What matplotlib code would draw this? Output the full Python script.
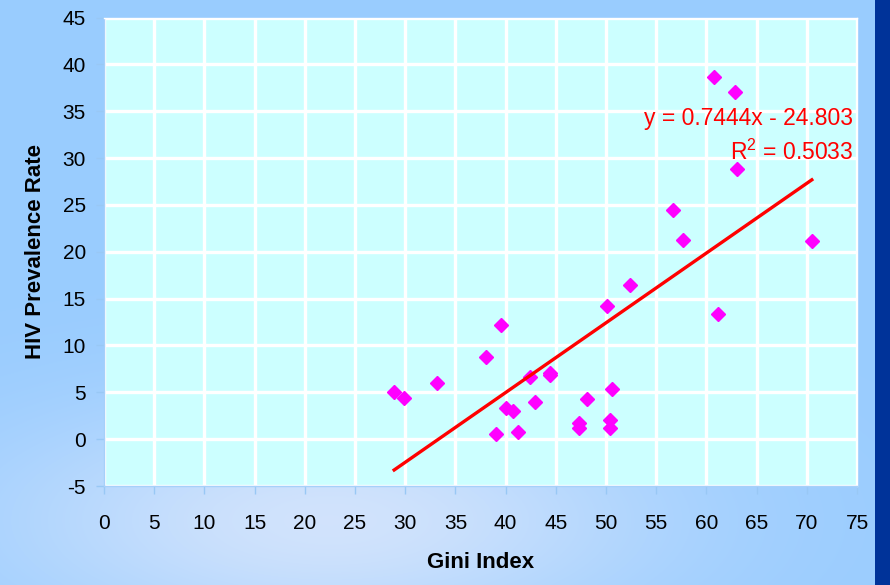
import matplotlib
matplotlib.use('Agg')
import matplotlib.pyplot as plt
import numpy as np
from matplotlib.patches import Rectangle

# Gini index vs HIV prevalence
gini = [28.9, 29.9, 33.2, 38.0, 39.5, 39.0, 40.0, 40.7, 41.2, 42.4,
        42.9, 44.4, 44.4, 47.3, 47.3, 48.1, 50.1, 50.4, 50.4, 50.6,
        52.4, 56.7, 57.7, 60.8, 62.8, 63.0, 61.2, 70.5]
hiv = [5.0, 4.4, 6.0, 8.8, 12.2, 0.6, 3.3, 3.0, 0.8, 6.6,
       4.0, 7.1, 6.8, 1.7, 1.2, 4.3, 14.2, 2.0, 1.2, 5.4,
       16.4, 24.5, 21.3, 38.7, 37.1, 28.8, 13.4, 21.1]

slope = 0.7444
intercept = -24.803
r2 = 0.5033

x_ticks = list(range(0, 80, 5))
y_ticks = list(range(-5, 50, 5))

plt.rcParams['font.family'] = ['Liberation Sans', 'DejaVu Sans']
plt.rcParams['axes.unicode_minus'] = False
plt.rcParams['mathtext.fontset'] = 'custom'
plt.rcParams['mathtext.rm'] = 'Liberation Sans'
plt.rcParams['mathtext.default'] = 'rm'

W, H = 890, 585
fig = plt.figure(figsize=(W / 100, H / 100), dpi=100)

# background: light blue with a paler glow near the bottom
yy, xx = np.mgrid[0:H, 0:W]
w = np.exp(-((xx - 330) / 330.0) ** 2 - ((yy - 520) / 120.0) ** 2)
c0 = np.array([0.60, 0.80, 1.0])
c1 = np.array([0.82, 0.89, 0.99])
bg = c0[None, None, :] * (1 - w[..., None]) + c1[None, None, :] * w[..., None]
ax_bg = fig.add_axes([0, 0, 1, 1], zorder=-10)
ax_bg.imshow(bg, aspect='auto', extent=[0, W, H, 0])
ax_bg.axis('off')
fig.patches.append(Rectangle((875 / W, 0), 1 - 875 / W, 1, transform=fig.transFigure,
                             facecolor='#003399', edgecolor='none', zorder=-5))

ax = fig.add_axes([104 / W, 1 - 486 / H, (857 - 104) / W, (486 - 17.5) / H])
ax.set_facecolor('#ccffff')

ax.set_xlim(0, 75)
ax.set_ylim(-5, 45)
ax.set_xticks(x_ticks)
ax.set_yticks(y_ticks)
ax.grid(True, color='white', linewidth=2.4)
ax.set_axisbelow(True)

for s in ax.spines.values():
    s.set_color('#a6d0fa')
    s.set_linewidth(1)
ax.spines['top'].set_color('white')
ax.spines['right'].set_color('white')

ax.tick_params(axis='both', colors='#99c8f5', length=6, width=1, labelcolor='black', labelsize=15)
ax.tick_params(axis='x', pad=14)
ax.tick_params(axis='y', pad=7)

ax.plot(gini, hiv, linestyle='none', marker='D', markersize=7.5,
        color='#ff00ff', zorder=3, clip_on=False)

xs = np.array(sorted(gini))
ax.plot(xs, slope * xs + intercept, color='#ff0000', linewidth=2.4, zorder=4)

ax.text(853 / W, 1 - 118.5 / H, f'y = {slope}x - {abs(intercept)}', transform=fig.transFigure,
        color='#ff0000', fontsize=16.5, ha='right', va='center')
ax.text(853 / W, 1 - 152 / H, f'R$^2$ = {r2}', transform=fig.transFigure,
        color='#ff0000', fontsize=16.5, ha='right', va='center')

ax.set_xlabel('Gini Index', fontsize=16, fontweight='bold', labelpad=14)
ax.set_ylabel('HIV Prevalence Rate', fontsize=16, fontweight='bold', labelpad=12)

fig.savefig('out.png', dpi=100)
